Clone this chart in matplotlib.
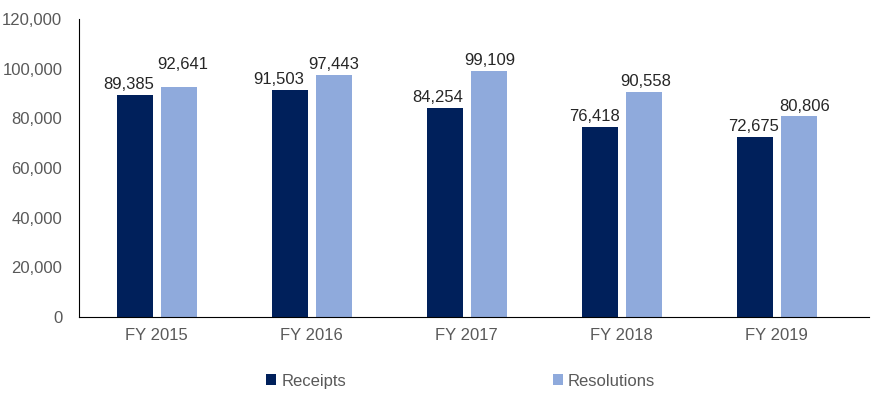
import matplotlib.pyplot as plt
import numpy as np
from matplotlib.ticker import FuncFormatter

plt.rcParams['font.family'] = ['Liberation Sans', 'DejaVu Sans']

years = ["FY 2015", "FY 2016", "FY 2017", "FY 2018", "FY 2019"]
receipts = [89385, 91503, 84254, 76418, 72675]
resolutions = [92641, 97443, 99109, 90558, 80806]

fig = plt.figure(figsize=(8.71, 3.99), dpi=100)
ax = fig.add_axes([79 / 871, 1 - 317 / 399, 790 / 871, 298 / 399])

x = np.arange(len(years))
w = 0.232
off = 0.142
b1 = ax.bar(x - off, receipts, w, color="#00205b", label="Receipts")
b2 = ax.bar(x + off, resolutions, w, color="#8faadc", label="Resolutions")

# label nudges (points) like the hand-placed labels in the original
nudge = {
    0: [(-4, 2), (-8, 2), (-5, 2), (-4, 2), (-1, 2)],
    1: [(3, 11), (0, 2), (1, 2), (1, 2), (4, 2)],
}
for k, bars in enumerate((b1, b2)):
    for i, rect in enumerate(bars):
        h = rect.get_height()
        ax.annotate(f"{h:,.0f}", (rect.get_x() + rect.get_width() / 2, h),
                    xytext=nudge[k][i], textcoords="offset points",
                    ha="center", va="bottom", fontsize=12, color="#262626")

ax.set_xlim(-0.5, 4.594)
ax.set_ylim(0, 120000)
ax.set_yticks(range(0, 120001, 20000))
ax.yaxis.set_major_formatter(FuncFormatter(lambda v, p: f"{v:,.0f}"))
ax.set_xticks(x)
ax.set_xticklabels(years)
ax.tick_params(axis="both", length=0, labelsize=12, colors="#595959")
ax.tick_params(axis="y", pad=12)
ax.tick_params(axis="x", pad=8)
ax.spines["top"].set_visible(False)
ax.spines["right"].set_visible(False)

ax.legend(loc="center", bbox_to_anchor=(0.483, -0.215), ncol=2, frameon=False,
          fontsize=12, handlelength=0.6, handleheight=0.6, handletextpad=0.3,
          columnspacing=12.4, labelcolor="#595959")

fig.savefig("out.png", dpi=100)
